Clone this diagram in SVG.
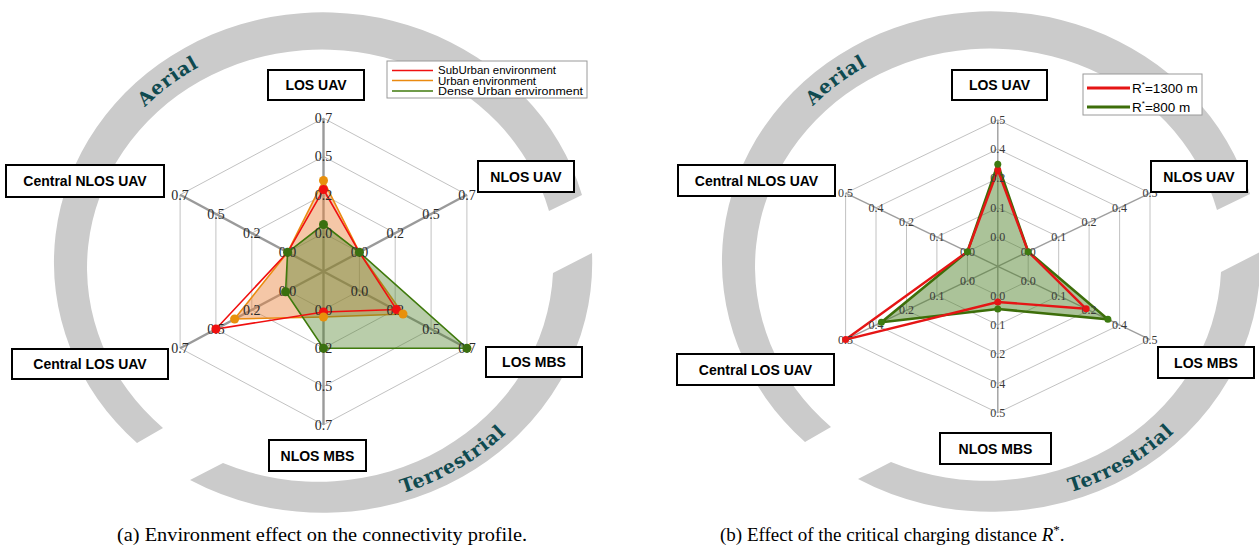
<svg xmlns="http://www.w3.org/2000/svg" width="1259" height="557" viewBox="0 0 1259 557">
<style>
.band{fill:#cbcbcb}
.arclbl{font-family:"DejaVu Serif","Liberation Serif",serif;font-weight:bold;font-size:19px;fill:#0f4a50;letter-spacing:0.8px}
.box rect{fill:#fff;stroke:#000;stroke-width:2}
.box text{font-family:"Liberation Sans",Arial,sans-serif;font-weight:bold;font-size:14px;fill:#000;text-anchor:middle}
.grid{fill:none;stroke:#c2c2c2;stroke-width:1}
.axisL{stroke:#9a9a9a;stroke-width:2.4}
.axisR{stroke:#9e9e9e;stroke-width:1.4}
.tickL text{font-family:"Liberation Serif","Times New Roman",serif;font-size:14px;fill:#2a2a2a;text-anchor:middle}
.tickR text{font-family:"Liberation Serif","Times New Roman",serif;font-size:12px;fill:#3a3a3a;text-anchor:middle}
.leg{font-family:"Liberation Sans",Arial,sans-serif;font-size:11px;fill:#000}
.legR{font-family:"Liberation Sans",Arial,sans-serif;font-size:13.5px;fill:#000}
.cap{font-family:"Liberation Serif","Times New Roman",serif;font-size:19px;fill:#000}
</style>
<defs>
<path id="aerialPath" d="M79,263 A244,228 0 0 1 567,263"/>
<path id="terrPath" d="M65,263 A258,242 0 0 0 581,263"/>
</defs>
<rect width="1259" height="557" fill="#fff"/>

<!-- gray arcs -->
<g id="arcs-a">
<path class="band" d="M137,443 A269,250 0 1 1 582,195 L549,211 A235,218 0 1 0 163,428 Z"/>
<path class="band" d="M592,253 A269,250 0 0 1 190,480 L223,463 A235,218 0 0 0 553,273 Z"/>
<text class="arclbl"><textPath href="#aerialPath" startOffset="28%" text-anchor="middle">Aerial</textPath></text>
<text class="arclbl"><textPath href="#terrPath" startOffset="68%" text-anchor="middle">Terrestrial</textPath></text>
</g>
<g id="arcs-b" transform="translate(668,-1)">
<path class="band" d="M137,443 A269,250 0 1 1 582,195 L549,211 A235,218 0 1 0 163,428 Z"/>
<path class="band" d="M592,253 A269,250 0 0 1 190,480 L223,463 A235,218 0 0 0 553,273 Z"/>
<text class="arclbl"><textPath href="#aerialPath" startOffset="28%" text-anchor="middle">Aerial</textPath></text>
<text class="arclbl"><textPath href="#terrPath" startOffset="68%" text-anchor="middle">Terrestrial</textPath></text>
</g>

<!-- left radar chart -->
<g id="chart-a">
<g class="grid">
<polygon points="323.5,233.2 359.4,252.3 359.4,290.7 323.5,309.8 287.6,290.7 287.6,252.3"/>
<polygon points="323.5,194.8 395.2,233.2 395.2,309.8 323.5,348.2 251.8,309.8 251.8,233.2"/>
<polygon points="323.5,156.5 431.1,214 431.1,329 323.5,386.5 215.9,329 215.9,214"/>
<polygon points="323.5,118.2 466.9,194.8 466.9,348.2 323.5,424.8 180.1,348.2 180.1,194.8"/>
</g>
<g class="axisL">
<line x1="323.5" y1="271.5" x2="323.5" y2="118.2"/>
<line x1="323.5" y1="271.5" x2="466.9" y2="194.8"/>
<line x1="323.5" y1="271.5" x2="466.9" y2="348.2"/>
<line x1="323.5" y1="271.5" x2="323.5" y2="424.8"/>
<line x1="323.5" y1="271.5" x2="180.1" y2="348.2"/>
<line x1="323.5" y1="271.5" x2="180.1" y2="194.8"/>
</g>
<polygon points="323.5,180.5 359.4,252.3 403,314 323.5,317 234.6,319 287.6,252.3" fill="#e8823c" fill-opacity="0.45" stroke="#ea8a10" stroke-width="1.6"/>
<polygon points="323.5,224.5 359.4,252.3 466.9,348.2 323.5,348.2 285.6,291.8 287.6,252.3" fill="#50822a" fill-opacity="0.4" stroke="#3f7a0c" stroke-width="1.6"/>
<polygon points="323.5,189.5 359.4,252.3 396.5,309.5 323.5,312 215.9,329 287.6,252.3" fill="none" stroke="#f01010" stroke-width="1.6"/>
<g class="tickL">
<text x="323.5" y="238">0.0</text><text x="323.5" y="199.6">0.2</text><text x="323.5" y="161.3">0.5</text><text x="323.5" y="123">0.7</text>
<text x="359.4" y="257.1">0.0</text><text x="395.2" y="238">0.2</text><text x="431.1" y="218.8">0.5</text><text x="466.9" y="199.6">0.7</text>
<text x="359.4" y="295.5">0.0</text><text x="395.2" y="314.6">0.2</text><text x="431.1" y="333.8">0.5</text><text x="466.9" y="353">0.7</text>
<text x="323.5" y="314.6">0.0</text><text x="323.5" y="353">0.2</text><text x="323.5" y="391.3">0.5</text><text x="323.5" y="429.6">0.7</text>
<text x="287.6" y="295.5">0.0</text><text x="251.8" y="314.6">0.2</text><text x="215.9" y="333.8">0.5</text><text x="180.1" y="353">0.7</text>
<text x="287.6" y="257.1">0.0</text><text x="251.8" y="238">0.2</text><text x="215.9" y="218.8">0.5</text><text x="180.1" y="199.6">0.7</text>
</g>
<g fill="#f01010">
<circle cx="323.5" cy="189.5" r="4.5"/><circle cx="396.5" cy="309.5" r="4.5"/><circle cx="323.5" cy="312" r="4.5"/><circle cx="215.9" cy="329" r="4.5"/>
</g>
<g fill="#e8900c">
<circle cx="323.5" cy="180.5" r="4.5"/><circle cx="403" cy="314" r="4.5"/><circle cx="323.5" cy="317" r="4.5"/><circle cx="234.6" cy="319" r="4.5"/>
</g>
<g fill="#3a7010">
<circle cx="323.5" cy="224.5" r="4.5"/><circle cx="359.4" cy="252.3" r="4.5"/><circle cx="466.9" cy="348.2" r="4.5"/><circle cx="323.5" cy="348.2" r="4.5"/><circle cx="285.6" cy="291.8" r="4.5"/><circle cx="287.6" cy="252.3" r="4.5"/>
</g>
</g>

<!-- right radar chart -->
<g id="chart-b">
<g class="grid">
<polygon points="997.8,237 1028.2,251.65 1028.2,280.95 997.8,295.6 967.4,280.95 967.4,251.65"/>
<polygon points="997.8,207.7 1058.7,237 1058.7,295.6 997.8,324.9 936.9,295.6 936.9,237"/>
<polygon points="997.8,178.4 1089.1,222.35 1089.1,310.25 997.8,354.2 906.5,310.25 906.5,222.35"/>
<polygon points="997.8,149.1 1119.6,207.7 1119.6,324.9 997.8,383.5 876,324.9 876,207.7"/>
<polygon points="997.8,119.8 1150,193.05 1150,339.55 997.8,412.8 845.6,339.55 845.6,193.05"/>
</g>
<g class="axisR">
<line x1="997.8" y1="266.3" x2="997.8" y2="119.8"/>
<line x1="997.8" y1="266.3" x2="1150" y2="193.05"/>
<line x1="997.8" y1="266.3" x2="1150" y2="339.55"/>
<line x1="997.8" y1="266.3" x2="997.8" y2="412.8"/>
<line x1="997.8" y1="266.3" x2="845.6" y2="339.55"/>
<line x1="997.8" y1="266.3" x2="845.6" y2="193.05"/>
</g>
<polygon points="997.8,164.3 1028.2,251.65 1107.9,319.3 997.8,309 881.4,322.3 967.4,251.65" fill="#50822a" fill-opacity="0.48" stroke="#3d6e0a" stroke-width="2.6"/>
<polygon points="997.8,170 1028.2,251.65 1086.1,308.8 997.8,302 845.6,339.55 967.4,251.65" fill="none" stroke="#e51515" stroke-width="2.4"/>
<g class="tickR">
<text x="997.8" y="241">0.0</text><text x="997.8" y="211.7">0.1</text><text x="997.8" y="182.4">0.2</text><text x="997.8" y="153.1">0.4</text><text x="997.8" y="123.8">0.5</text>
<text x="1028.2" y="255.6">0.0</text><text x="1058.7" y="241">0.1</text><text x="1089.1" y="226.3">0.2</text><text x="1119.6" y="211.7">0.4</text><text x="1150" y="197">0.5</text>
<text x="1028.2" y="285">0.0</text><text x="1058.7" y="299.6">0.1</text><text x="1089.1" y="314.2">0.2</text><text x="1119.6" y="328.9">0.4</text><text x="1150" y="343.5">0.5</text>
<text x="997.8" y="299.6">0.0</text><text x="997.8" y="328.9">0.1</text><text x="997.8" y="358.2">0.2</text><text x="997.8" y="387.5">0.4</text><text x="997.8" y="416.8">0.5</text>
<text x="967.4" y="285">0.0</text><text x="936.9" y="299.6">0.1</text><text x="906.5" y="314.2">0.2</text><text x="876" y="328.9">0.4</text><text x="845.6" y="343.5">0.5</text>
<text x="967.4" y="255.6">0.0</text><text x="936.9" y="241">0.1</text><text x="906.5" y="226.3">0.2</text><text x="876" y="211.7">0.4</text><text x="845.6" y="197">0.5</text>
</g>
<g fill="#e51515">
<circle cx="997.8" cy="170" r="3.5"/><circle cx="1086.1" cy="308.8" r="3.5"/><circle cx="997.8" cy="302" r="3.5"/><circle cx="845.6" cy="339.55" r="3.5"/>
</g>
<g fill="#3d7a10">
<circle cx="997.8" cy="164.3" r="3.5"/><circle cx="1028.2" cy="251.65" r="3.5"/><circle cx="1107.9" cy="319.3" r="3.5"/><circle cx="997.8" cy="309" r="3.5"/><circle cx="881.4" cy="322.3" r="3.5"/><circle cx="967.4" cy="251.65" r="3.5"/>
</g>
</g>

<!-- legends -->
<g id="legend-a">
<rect x="387" y="61" width="200" height="37" fill="#fff" stroke="#9a9a9a" stroke-width="1"/>
<line x1="392" y1="70.5" x2="433" y2="70.5" stroke="#f01010" stroke-width="1.5"/>
<line x1="392" y1="80.5" x2="433" y2="80.5" stroke="#ea8a10" stroke-width="1.5"/>
<line x1="392" y1="91" x2="433" y2="91" stroke="#3f7a0c" stroke-width="1.5"/>
<text class="leg" x="438" y="74.3" textLength="118" lengthAdjust="spacingAndGlyphs">SubUrban environment</text>
<text class="leg" x="438" y="84.5" textLength="98" lengthAdjust="spacingAndGlyphs">Urban environment</text>
<text class="leg" x="438" y="94.8" textLength="145" lengthAdjust="spacingAndGlyphs">Dense Urban environment</text>
</g>
<g id="legend-b">
<rect x="1083" y="74" width="119" height="41" fill="#fff" stroke="#9a9a9a" stroke-width="1"/>
<line x1="1087" y1="88" x2="1130" y2="88" stroke="#e51515" stroke-width="3"/>
<line x1="1087" y1="107" x2="1130" y2="107" stroke="#3d6e0a" stroke-width="3"/>
<text class="legR" x="1132" y="93">R<tspan dy="-6" font-size="8">*</tspan><tspan dy="6">=1300 m</tspan></text>
<text class="legR" x="1132" y="112">R<tspan dy="-6" font-size="8">*</tspan><tspan dy="6">=800 m</tspan></text>
</g>

<!-- label nodes, left -->
<g id="a-los-uav" class="box"><rect x="268" y="70" width="96" height="30"/><text x="316" y="90">LOS UAV</text></g>
<g id="a-nlos-uav" class="box"><rect x="478" y="161" width="96" height="31"/><text x="526" y="181.5">NLOS UAV</text></g>
<g id="a-los-mbs" class="box"><rect x="486" y="347" width="96" height="30"/><text x="534" y="367">LOS MBS</text></g>
<g id="a-nlos-mbs" class="box"><rect x="269" y="440" width="97" height="31"/><text x="317.5" y="460.5">NLOS MBS</text></g>
<g id="a-central-los-uav" class="box"><rect x="12" y="349" width="156" height="30"/><text x="90" y="369">Central LOS UAV</text></g>
<g id="a-central-nlos-uav" class="box"><rect x="6" y="165" width="158" height="32"/><text x="85" y="186">Central NLOS UAV</text></g>

<!-- label nodes, right -->
<g id="b-los-uav" class="box"><rect x="952" y="70" width="95" height="30"/><text x="999.5" y="90">LOS UAV</text></g>
<g id="b-nlos-uav" class="box"><rect x="1151" y="161" width="96" height="31"/><text x="1199" y="181.5">NLOS UAV</text></g>
<g id="b-los-mbs" class="box"><rect x="1158" y="347" width="96" height="31"/><text x="1206" y="367.5">LOS MBS</text></g>
<g id="b-nlos-mbs" class="box"><rect x="940" y="433" width="111" height="31"/><text x="995.5" y="453.5">NLOS MBS</text></g>
<g id="b-central-los-uav" class="box"><rect x="677" y="354" width="157" height="31"/><text x="755.5" y="374.5">Central LOS UAV</text></g>
<g id="b-central-nlos-uav" class="box"><rect x="678" y="165" width="157" height="31"/><text x="756.5" y="185.5">Central NLOS UAV</text></g>

<g id="connectors"></g>

<!-- captions -->
<text class="cap" x="117" y="541" textLength="410" lengthAdjust="spacingAndGlyphs">(a) Environment effect on the connectivity profile.</text>
<text class="cap" x="720" y="541">(b) Effect of the critical charging distance <tspan font-style="italic">R</tspan><tspan dy="-7" font-size="13">*</tspan><tspan dy="7">.</tspan></text>
</svg>
